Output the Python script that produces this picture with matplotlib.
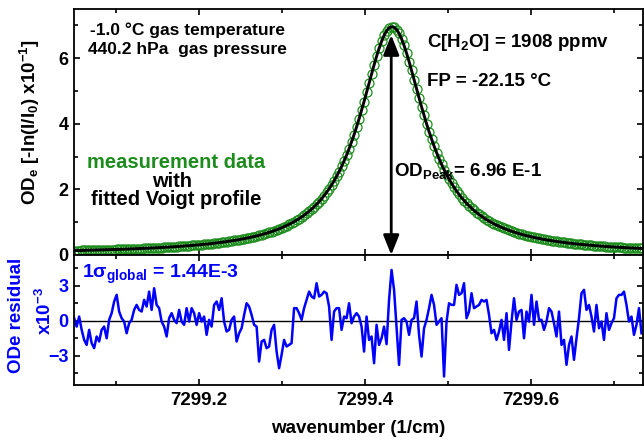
import numpy as np
import matplotlib
matplotlib.use('Agg')
import matplotlib.pyplot as plt
from matplotlib.ticker import MultipleLocator, FixedLocator
from matplotlib.patches import ArrowStyle

# --- data ------------------------------------------------------------------
# spectral grid (1/cm), 228 evenly spaced samples
wn_start = 7299.05
wn_stop = 7299.7335
n_pts = 228

# optical density, units of 1e-1 (measurement ~ fitted Voigt profile)
od_profile = [
    0.133, 0.135, 0.136, 0.138, 0.140, 0.142, 0.144, 0.146, 0.148, 0.150,
    0.152, 0.154, 0.156, 0.159, 0.161, 0.163, 0.166, 0.168, 0.171, 0.173,
    0.176, 0.179, 0.182, 0.185, 0.188, 0.191, 0.194, 0.197, 0.201, 0.204,
    0.208, 0.212, 0.216, 0.219, 0.224, 0.228, 0.232, 0.237, 0.241, 0.246,
    0.251, 0.256, 0.261, 0.267, 0.272, 0.278, 0.284, 0.290, 0.297, 0.304,
    0.311, 0.318, 0.325, 0.333, 0.341, 0.350, 0.358, 0.367, 0.377, 0.387,
    0.397, 0.408, 0.419, 0.431, 0.443, 0.455, 0.469, 0.483, 0.497, 0.512,
    0.528, 0.545, 0.562, 0.581, 0.600, 0.621, 0.642, 0.665, 0.688, 0.713,
    0.740, 0.768, 0.797, 0.828, 0.862, 0.897, 0.934, 0.973, 1.015, 1.060,
    1.108, 1.158, 1.213, 1.270, 1.332, 1.398, 1.469, 1.545, 1.626, 1.714,
    1.808, 1.909, 2.017, 2.134, 2.260, 2.396, 2.542, 2.699, 2.867, 3.048,
    3.242, 3.450, 3.670, 3.905, 4.151, 4.411, 4.679, 4.957, 5.237, 5.518,
    5.792, 6.055, 6.297, 6.514, 6.693, 6.832, 6.921, 6.959, 6.943, 6.874,
    6.754, 6.591, 6.387, 6.155, 5.899, 5.629, 5.349, 5.069, 4.789, 4.517,
    4.254, 4.002, 3.762, 3.536, 3.323, 3.124, 2.938, 2.765, 2.603, 2.453,
    2.313, 2.184, 2.063, 1.951, 1.847, 1.751, 1.661, 1.577, 1.499, 1.426,
    1.358, 1.295, 1.235, 1.180, 1.128, 1.079, 1.033, 0.990, 0.949, 0.911,
    0.875, 0.842, 0.810, 0.779, 0.751, 0.724, 0.698, 0.674, 0.651, 0.629,
    0.608, 0.589, 0.570, 0.552, 0.535, 0.519, 0.503, 0.488, 0.474, 0.461,
    0.448, 0.435, 0.424, 0.412, 0.401, 0.391, 0.381, 0.371, 0.362, 0.353,
    0.345, 0.336, 0.328, 0.321, 0.313, 0.306, 0.300, 0.293, 0.287, 0.281,
    0.275, 0.269, 0.263, 0.258, 0.253, 0.248, 0.243, 0.238, 0.234, 0.229,
    0.225, 0.221, 0.217, 0.213, 0.209, 0.206, 0.202, 0.199,
]

# fit residual, units of 1e-3
residual = [
    0.23, -0.49, 0.37, -0.77, -1.63, -2.06, -0.77, -1.91, -2.34, -1.34,
    -1.77, -0.77, -0.49, -1.49, 0.09, 0.66, 1.66, 2.23, 0.80, 0.23,
    -0.06, -1.06, -0.20, 0.09, 0.94, 1.37, 0.94, 0.80, 1.80, 1.23,
    2.51, 0.94, 2.80, 1.37, 1.09, -0.06, -0.49, -1.34, 0.23, 0.66,
    0.09, -0.20, 0.94, -0.06, -0.34, 1.09, -0.06, 1.09, 0.66, -0.34,
    0.66, -0.06, 0.37, -1.20, 0.09, -0.49, 1.37, 1.66, 0.94, 1.94,
    -0.06, -0.91, -0.77, 0.09, 0.37, -1.77, -1.06, -0.63, 0.51, 1.51,
    1.23, 0.51, -0.34, -0.49, -3.49, -1.77, -1.63, -2.34, -2.20, -0.77,
    -0.34, -2.63, -4.06, -2.91, -1.63, -2.20, -2.06, -1.91, 1.09, 1.09,
    0.66, 0.09, 1.09, 1.80, 2.51, 2.09, 1.94, 3.23, 2.09, 2.23,
    2.51, 2.37, 1.23, -1.63, 0.80, 1.09, 1.09, -0.77, 0.37, 0.23,
    1.51, -0.20, 0.37, 0.66, 0.37, -0.49, -2.63,
    0.37, -1.63, -1.34, -3.63, -0.34, -2.06, -1.49, -0.49, -2.00, 1.80,
    4.37, 2.66, -0.49, -3.77, 0.09, 0.23, -0.06, -1.20, 0.09, 0.23,
    1.66, -1.20, -3.06, -0.63, 0.09, 1.09, 2.23, 1.37, -0.34, -0.06,
    0.23, -4.77, -0.06, 1.51, 1.37, 1.37, 3.09, 2.23, 2.37, 3.23,
    0.23, 0.80, 2.37, 1.09, 1.23, 1.37, 1.80, 1.66, 1.80, 0.51,
    -1.06, -0.77, -1.63, -0.91, 0.09, -1.63, 0.66,
    -2.49, -0.06, 1.94, 0.09, 0.80, 0.94, -1.49, 0.80, -0.06, 2.23,
    -0.34, 1.66, 0.09, 0.09, -0.77, -0.06, 1.09, 0.80, -0.20, -1.34,
    0.80, -2.06, -1.63, -3.77, -2.06, -1.34, -3.34, -1.49, 0.23, 2.37,
    2.66, 0.94, 1.37, 0.37, -0.91, 1.37, -0.63, -0.06, -1.63, 0.66,
    -0.77, -0.20, 0.23, 1.94, 2.23, 2.23, 2.51, 1.37, -0.06, 0.37,
    -1.20, -0.34, 1.09, -1.06,
]

wn_peak = 7299.432
od_peak = 6.96

xticks = [7299.2, 7299.4, 7299.6]
xtick_labels = ['7299.2', '7299.4', '7299.6']

wn = np.linspace(wn_start, wn_stop, n_pts)

# --- style --------------------------------------------------------------
plt.rcParams['font.family'] = ['Liberation Sans', 'DejaVu Sans']
plt.rcParams['font.weight'] = 'bold'
plt.rcParams['axes.labelweight'] = 'bold'
plt.rcParams['mathtext.fontset'] = 'custom'
plt.rcParams['mathtext.rm'] = 'Liberation Sans:bold'
plt.rcParams['mathtext.it'] = 'Liberation Sans:bold'
plt.rcParams['mathtext.bf'] = 'Liberation Sans:bold'
plt.rcParams['mathtext.default'] = 'regular'

green = '#1c8c1c'
blue = '#0000ff'

fig = plt.figure(figsize=(6.44, 4.43), dpi=100)
ax1 = fig.add_axes([0.1149, 0.4244, 0.8835, 0.5553])
ax2 = fig.add_axes([0.1149, 0.1309, 0.8835, 0.2935])

for ax in (ax1, ax2):
    ax.set_xlim(7299.0498, 7299.7353)
    ax.xaxis.set_major_locator(FixedLocator(xticks))
    ax.xaxis.set_minor_locator(MultipleLocator(0.1))
    ax.tick_params(which='both', direction='in', top=True, right=True,
                   width=1.2)
    ax.tick_params(which='major', length=4.5)
    ax.tick_params(which='minor', length=3)
    for sp in ax.spines.values():
        sp.set_linewidth(1.3)

# top panel: measurement + fit
ax1.plot(wn, od_profile, 'o', mfc='none', mec=green, ms=6.5, mew=0.9)
ax1.plot(wn, od_profile, color='black', lw=2.1)
ax1.set_ylim(0, 7.5)
ax1.yaxis.set_major_locator(MultipleLocator(2))
ax1.yaxis.set_minor_locator(MultipleLocator(1))
ax1.tick_params(axis='x', labelbottom=False)
ax1.tick_params(axis='y', labelsize=13, pad=4)

ax1.annotate('', xy=(wn_peak, od_peak), xytext=(wn_peak, 0),
             arrowprops=dict(arrowstyle=ArrowStyle('<|-|>', head_length=0.6,
                                                   head_width=0.24),
                             mutation_scale=20, color='black', lw=2,
                             shrinkA=0, shrinkB=6))

t = ax1.transAxes
ax1.text(0.028, 0.894, '-1.0 °C gas temperature', transform=t, fontsize=12.5)
ax1.text(0.025, 0.816, '440.2 hPa  gas pressure', transform=t, fontsize=12.5)
ax1.text(0.179, 0.352, 'measurement data', transform=t, fontsize=14.5,
         color=green, ha='center')
ax1.text(0.172, 0.275, 'with', transform=t, fontsize=14.5, ha='center')
ax1.text(0.179, 0.203, 'fitted Voigt profile', transform=t, fontsize=14.5,
         ha='center')
ax1.text(0.620, 0.847, 'C[H$_2$O] = 1908 ppmv', transform=t, fontsize=13.5)
ax1.text(0.620, 0.687, 'FP = -22.15 °C', transform=t, fontsize=13.5)
ax1.text(0.562, 0.321, 'OD$_{Peak}$= 6.96 E-1', transform=t, fontsize=13.5)

fig.text(0.047, 0.724, 'OD$_e$ [-ln(I/I$_0$) x10$^{-1}$]', rotation=90,
         ha='center', va='center', fontsize=13.5)

# bottom panel: residual
ax2.axhline(0, color='black', lw=1.0)
ax2.plot(wn, residual, color=blue, lw=1.8)
ax2.set_ylim(-5.5, 5.65)
ax2.yaxis.set_major_locator(FixedLocator([-3, 0, 3]))
ax2.yaxis.set_minor_locator(FixedLocator([-4.5, -1.5, 1.5, 4.5]))
ax2.set_xticklabels(xtick_labels)
ax2.tick_params(axis='x', labelsize=13.5, pad=5)
ax2.tick_params(axis='y', labelsize=13, labelcolor=blue, pad=4)
ax2.text(0.014, 0.825, '1σ$_{global}$ = 1.44E-3', transform=ax2.transAxes,
         fontsize=14, color=blue)
ax2.set_xlabel('wavenumber (1/cm)', fontsize=13.5, fontweight='bold',
               labelpad=8)

fig.text(0.025, 0.287, 'ODe residual', rotation=90, ha='center',
         va='center', fontsize=13.5, color=blue)
fig.text(0.070, 0.298, 'x10$^{-3}$', rotation=90, ha='center',
         va='center', fontsize=13.5, color=blue)

fig.savefig('out.png', dpi=100)
